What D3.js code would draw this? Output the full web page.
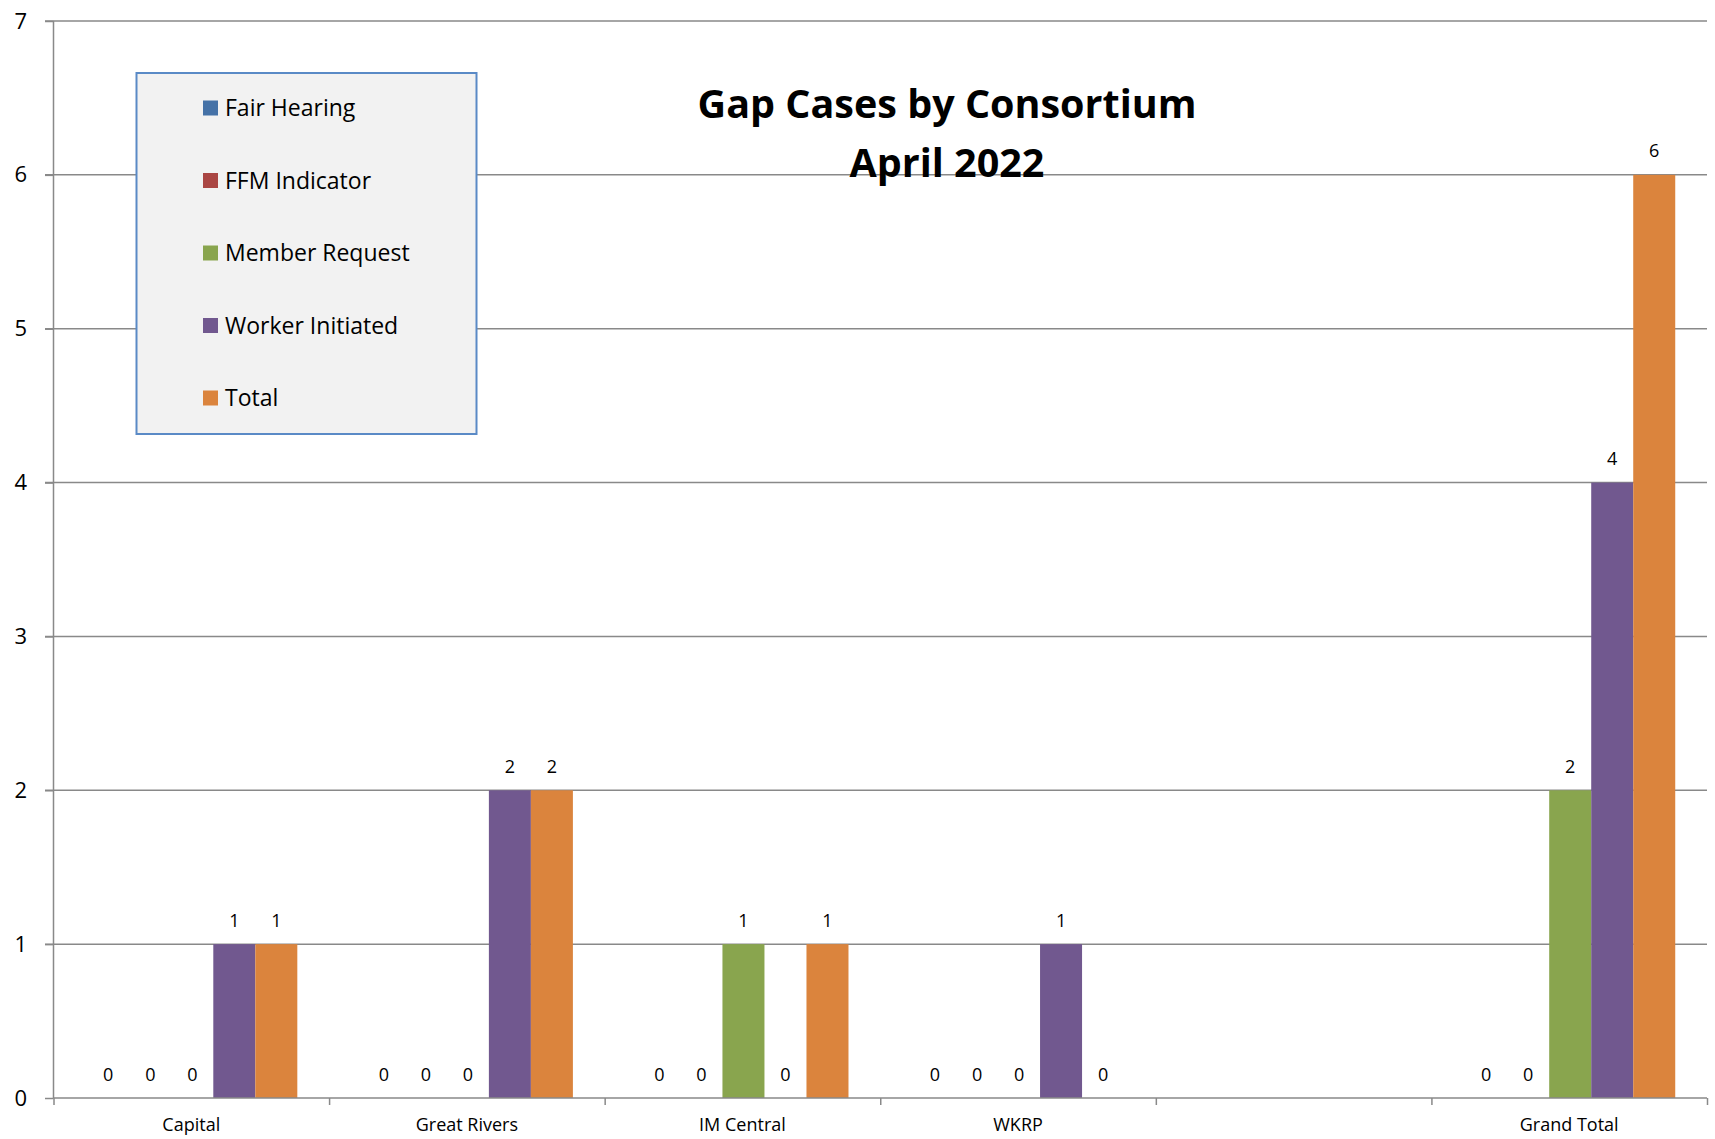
<!DOCTYPE html>
<html>
<head>
<meta charset="utf-8">
<script src="https://cdn.jsdelivr.net/npm/d3@7"></script>
<style>
  html, body { margin: 0; padding: 0; background: #ffffff; }
  svg { display: block; }
  text { font-family: "Open Sans", "Liberation Sans", sans-serif; fill: #000; }
</style>
</head>
<body>
<svg id="chart" width="1715" height="1139"></svg>
<script>
const categories = ["Capital", "Great Rivers", "IM Central", "WKRP", "", "Grand Total"];
const seriesNames = ["Fair Hearing", "FFM Indicator", "Member Request", "Worker Initiated", "Total"];
const fairHearing     = [0, 0, 0, 0, null, 0];
const ffmIndicator    = [0, 0, 0, 0, null, 0];
const memberRequest   = [0, 0, 1, 0, null, 2];
const workerInitiated = [1, 2, 0, 1, null, 4];
const total           = [1, 2, 1, 0, null, 6];
const yTicks = [0, 1, 2, 3, 4, 5, 6, 7];
const titleLines = ["Gap Cases by Consortium", "April 2022"];
const colors = ["#4572A7", "#AA4643", "#89A54E", "#71588F", "#DB843D"];

const seriesValues = [fairHearing, ffmIndicator, memberRequest, workerInitiated, total];

const svg = d3.select("#chart");
const plotLeft = 53.5, plotRight = 1707, plotTop = 21, plotBottom = 1098;

const x0 = d3.scaleBand().domain(d3.range(categories.length)).range([plotLeft, plotRight]).paddingInner(0).paddingOuter(0);
const x1 = d3.scaleBand().domain(d3.range(seriesNames.length))
  .range([1, x0.bandwidth() + 1]).paddingInner(0).paddingOuter(0.78);
const y = d3.scaleLinear().domain([0, 7]).range([plotBottom, plotTop]);

// gridlines
svg.append("g").selectAll("line").data(yTicks.filter(d => d > 0)).join("line")
  .attr("x1", 45).attr("x2", plotRight)
  .attr("y1", d => y(d)).attr("y2", d => y(d))
  .attr("stroke", "#898989").attr("stroke-width", 1.5);

// bars
const groups = svg.append("g").selectAll("g").data(categories).join("g")
  .attr("transform", (d, i) => `translate(${x0(i)},0)`);
groups.each(function(c, ci) {
  const g = d3.select(this);
  seriesValues.forEach((vals, si) => {
    const v = vals[ci];
    if (v === null) return;
    if (v > 0) {
      g.append("rect")
        .attr("x", x1(si)).attr("width", x1.bandwidth())
        .attr("y", y(v)).attr("height", y(0) - y(v))
        .attr("fill", colors[si]);
    }
    g.append("text")
      .attr("x", x1(si) + x1.bandwidth() / 2)
      .attr("y", y(v) - 17.5)
      .attr("text-anchor", "middle")
      .attr("font-size", 18)
      .text(v);
  });
});

// y axis
const yAxis = d3.axisLeft(y).tickValues(yTicks).tickSize(8.5).tickPadding(18).tickFormat(d3.format("d"));
const gy = svg.append("g").attr("transform", `translate(${plotLeft},0)`).call(yAxis);
gy.select(".domain").attr("stroke", "#898989").attr("stroke-width", 1.5).attr("d", `M0,${plotTop}V${plotBottom}`);
gy.selectAll(".tick line").attr("stroke", "#898989").attr("stroke-width", 1.5);
gy.selectAll(".tick text").attr("font-size", 22).attr("fill", "#000")
  .attr("font-family", "'Open Sans', sans-serif");

// x axis
const xEdge = d3.scaleLinear().domain([0, categories.length]).range([plotLeft, plotRight]);
const xAxis = d3.axisBottom(xEdge).tickValues(d3.range(categories.length + 1)).tickSize(7).tickFormat("");
const gx = svg.append("g").attr("transform", `translate(0,${plotBottom})`).call(xAxis);
gx.select(".domain").attr("stroke", "#898989").attr("stroke-width", 1.5).attr("d", `M${plotLeft},0H${plotRight}`);
gx.selectAll(".tick line").attr("stroke", "#898989").attr("stroke-width", 1.5);
svg.append("g").selectAll("text").data(categories).join("text")
  .attr("x", (d, i) => x0(i) + x0.bandwidth() / 2)
  .attr("y", 1131)
  .attr("text-anchor", "middle")
  .attr("font-size", 18)
  .text(d => d);

// title
svg.append("g").selectAll("text").data(titleLines).join("text")
  .attr("x", 947).attr("y", (d, i) => 118 + i * 59)
  .attr("text-anchor", "middle")
  .attr("font-size", 39.5).attr("font-weight", "bold")
  .text(d => d);

// legend
const lg = svg.append("g");
lg.append("rect").attr("x", 136.5).attr("y", 73).attr("width", 340).attr("height", 361)
  .attr("fill", "#f2f2f2").attr("stroke", "#5a8ac6").attr("stroke-width", 2);
const li = lg.selectAll("g").data(seriesNames).join("g")
  .attr("transform", (d, i) => `translate(203,${108 + i * 72.5})`);
li.append("rect").attr("x", 0).attr("y", -7.5).attr("width", 15).attr("height", 15)
  .attr("fill", (d, i) => colors[i]);
li.append("text").attr("x", 22).attr("y", 8).attr("font-size", 23).text(d => d);
</script>
</body>
</html>
